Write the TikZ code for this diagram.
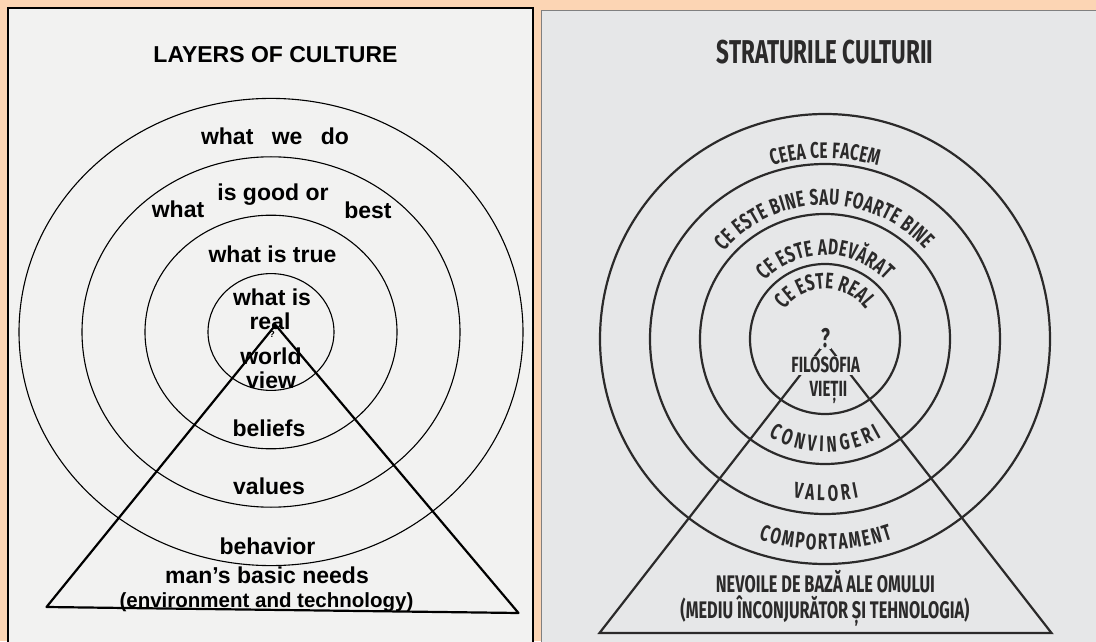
\documentclass[tikz,border=0pt]{standalone}
\usepackage{fontspec}
\setmainfont{Liberation Sans}
\newfontfamily\condfont[FakeStretch=0.68]{Fira Sans}
\usetikzlibrary{decorations.text}

\definecolor{peach}{HTML}{FCD5B4}
\definecolor{scanpaper}{HTML}{F2F2F1}
\definecolor{greypaper}{HTML}{E6E7E8}
\definecolor{ink}{HTML}{2B2A2A}

\newcommand{\scanfont}{\fontsize{23}{23}\selectfont\bfseries}
\newcommand{\arcfont}{\color{ink}\condfont\bfseries\fontsize{22.5}{22.5}\selectfont}
\newcommand{\condsize}[1]{\condfont\bfseries\fontsize{#1}{#1}\selectfont}

\tikzset{
  scanframe/.style={draw=black,line width=1.5pt,fill=scanpaper},
  greyframe/.style={draw=black!50,line width=1pt,fill=greypaper},
  scanring/.style={draw=black,line width=1.1pt},
  scanedge/.style={draw=black,line width=2.2pt,line join=round},
  ring/.style={draw=ink,line width=2.2pt},
  scanlabel/.style={font=\scanfont,inner sep=0pt},
  condlabel/.style={text=ink,inner sep=0pt,align=center},
  halo/.style={condlabel,fill=greypaper,inner sep=1.5pt,anchor=base},
  arctext/.style={decorate,decoration={text along path,text align=fit to path,
    text={|\arcfont|#1}}}
}

\begin{document}
\begin{tikzpicture}[x=1pt,y=1pt]
\useasboundingbox (0,0) rectangle (1096,641);
\fill[peach] (0,0) rectangle (1096,641);
\clip (0,0) rectangle (1096,641);

% Left panel: the scanned original
\draw[scanframe] (8,-5) rectangle (533,633);
\coordinate (lc) at (271,309);
\foreach \k in {1,...,4}
  \draw[scanring] (lc) ellipse [x radius=63*\k, y radius=58.4*\k];

\coordinate (ltop) at (275.5,316);
\coordinate (lbl) at (46.5,34);
\coordinate (lbr) at (518.5,28);
\draw[scanedge] (lbl) -- (ltop) -- (lbr) -- cycle;

\node[scanlabel] (ltitle) at (275.5,586) {LAYERS OF CULTURE};
\node[scanlabel] (ldo) at (275,505) {what\hspace{0.8em}we\hspace{0.8em}do};
\node[scanlabel] (lwhat) at (178,432) {what};
\node[scanlabel] (lgood) at (273,446) {is good or};
\node[scanlabel] (lbest) at (368,431) {best};
\node[scanlabel] (ltrue) at (272.5,387) {what is true};
\node[scanlabel] (lwhatis) at (272,344) {what is};
\node[scanlabel] (lreal) at (270,320) {real};
\node[scanlabel,font=\fontsize{9}{9}\selectfont\bfseries] (lq) at (272,307) {?};
\node[scanlabel] (lworld) at (271,285) {world};
\node[scanlabel] (lview) at (271,261) {view};
\node[scanlabel] (lbeliefs) at (269,213) {beliefs};
\node[scanlabel] (lvalues) at (269,155) {values};
\node[scanlabel] (lbehavior) at (267.5,95) {behavior};
\node[scanlabel] (lneeds) at (267,66) {man’s basic needs};
\node[scanlabel,font=\fontsize{20.5}{20.5}\selectfont\bfseries] (lenv) at (266.5,39)
  {(environment and technology)};

% Right panel: the Romanian version
\draw[greyframe] (541,-5) rectangle (1101,630);
\coordinate (rc) at (825,302);
\foreach \r in {75,125,175,225}
  \draw[ring] (rc) circle (\r);

\coordinate (rtop) at (825.5,298.5);
\coordinate (rbl) at (599.5,8);
\coordinate (rbr) at (1051.5,8);
\draw[ring,line join=miter] (rbl) -- (rtop) -- (rbr) -- cycle;

\node[condlabel,font=\condsize{33}] (rtitle) at (825,588.5) {STRATURILE CULTURII};
\node[halo,font=\condsize{27},inner sep=1pt] (rq) at (825.5,293) {?};
\node[halo,font=\condsize{22}] (rphil) at (825.7,268) {FILOSOFIA};
\node[halo,font=\condsize{22}] (rlife) at (828.5,244) {VIEȚII};
\node[condlabel,font=\condsize{24}] (rneeds) at (825.4,59) {NEVOILE DE BAZĂ ALE OMULUI};
\node[condlabel,font=\condsize{24}] (renv) at (825,29.5) {(MEDIU ÎNCONJURĂTOR ȘI TEHNOLOGIA)};

% texts round the rings
\path[arctext={CEEA CE FACEM}] (rc) ++(107:181) arc[start angle=107,end angle=73,radius=181];
\path[arctext={CE ESTE BINE SAU FOARTE BINE}] (rc) ++(139:134) arc[start angle=139,end angle=42,radius=134];
\path[arctext={CE ESTE ADEVĂRAT}] (rc) ++(136:84) arc[start angle=136,end angle=44,radius=84];
\path[arctext={CE ESTE REAL}] (rc) ++(144:50) arc[start angle=144,end angle=36,radius=50];
\path[arctext={CONVINGERI}] (rc) ++(240:113) arc[start angle=240,end angle=300,radius=113];
\path[arctext={VALORI}] (rc) ++(258.6:162) arc[start angle=258.6,end angle=282,radius=162];
\path[arctext={COMPORTAMENT}] (rc) ++(251.7:211) arc[start angle=251.7,end angle=288.7,radius=211];
\end{tikzpicture}
\end{document}
